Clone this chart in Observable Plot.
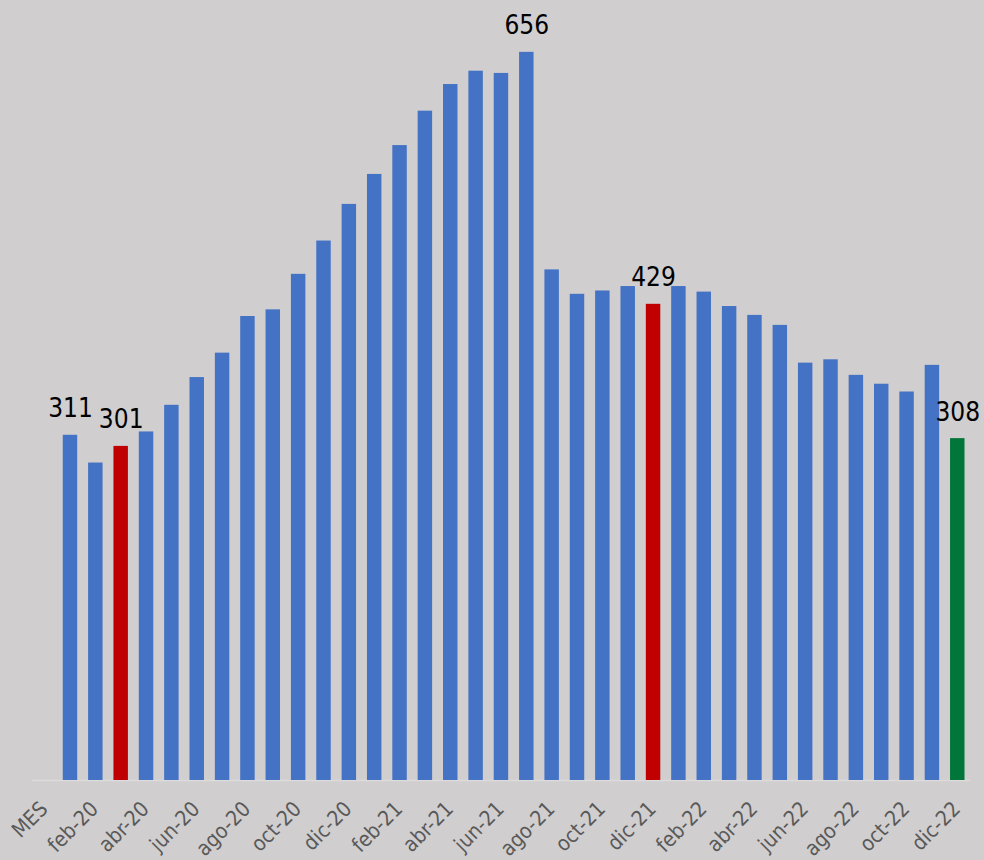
<!DOCTYPE html>
<html>
<head>
<meta charset="utf-8">
<script src="https://cdn.jsdelivr.net/npm/d3@7"></script>
<script src="https://cdn.jsdelivr.net/npm/@observablehq/plot@0.6"></script>
<style>
  html, body { margin: 0; padding: 0; background: #d0cecf; }
  #chart svg { display: block; }
</style>
</head>
<body>
<div id="chart"></div>
<script>
// Categories (first one is the header "MES", with no value)
const categorias = [
  "MES",
  "ene-20","feb-20","mar-20","abr-20","may-20","jun-20","jul-20","ago-20","sep-20","oct-20","nov-20","dic-20",
  "ene-21","feb-21","mar-21","abr-21","may-21","jun-21","jul-21","ago-21","sep-21","oct-21","nov-21","dic-21",
  "ene-22","feb-22","mar-22","abr-22","may-22","jun-22","jul-22","ago-22","sep-22","oct-22","nov-22","dic-22"
];

// Values
const valores = [
  null,
  311, 286, 301, 314, 338, 363, 385, 418, 424, 456, 486, 519,
  546, 572, 603, 627, 639, 637, 656, 460, 438, 441, 445, 429,
  445, 440, 427, 419, 410, 376, 379, 365, 357, 350, 374, 308
];

// Highlighted months
const mesesRojos = ["mar-20", "dic-21"];
const mesesVerdes = ["dic-22"];
const mesesEtiquetados = ["ene-20", "mar-20", "jul-21", "dic-21", "dic-22"];

// Tick labels shown (every other category)
const etiquetasX = categorias.filter((d, i) => i % 2 === 0);

const tabla = categorias.map((mes, i) => ({mes, valor: valores[i]}));

const colorBarra = d =>
  mesesRojos.includes(d.mes) ? "#c00000" :
  mesesVerdes.includes(d.mes) ? "#00763a" : "#4472c4";

const chart = Plot.plot({
  width: 984,
  height: 860,
  marginTop: 3,
  marginBottom: 80,
  marginLeft: 32,
  marginRight: 14,
  style: {
    background: "#d0cecf",
    fontFamily: "'DejaVu Sans Condensed', 'DejaVu Sans', sans-serif",
    overflow: "visible"
  },
  x: {domain: categorias, padding: 0.43, range: [26.5, 975.4], round: false, axis: null, label: null},
  y: {domain: [0, 700], axis: null},
  color: {type: "identity"},
  marks: [
    Plot.ruleY([0], {stroke: "#dcdcdc", strokeWidth: 1.5}),
    Plot.barY(tabla.filter(d => d.valor != null), {
      x: "mes",
      y: "valor",
      fill: colorBarra
    }),
    Plot.text(tabla.filter(d => mesesEtiquetados.includes(d.mes)), {
      x: "mes",
      y: "valor",
      text: d => String(d.valor),
      dy: -18,
      lineAnchor: "bottom",
      fontSize: 26,
      fill: "#000000"
    }),
    Plot.axisX({
      ticks: etiquetasX,
      tickSize: 0,
      tickPadding: 25,
      tickRotate: -45,
      fontSize: 21,
      color: "#595959",
      label: null,
      dx: -1
    })
  ]
});

document.getElementById("chart").appendChild(chart);
</script>
</body>
</html>
